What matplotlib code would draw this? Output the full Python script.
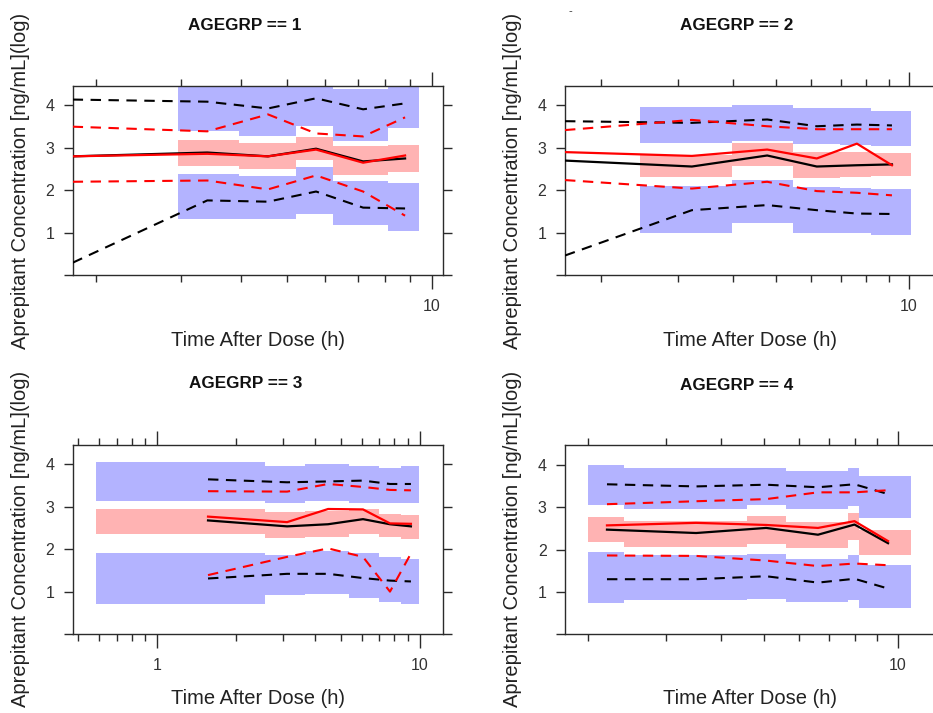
import matplotlib
matplotlib.use("Agg")
import matplotlib.pyplot as plt
import numpy as np

plt.rcParams['font.family'] = ['Liberation Sans', 'DejaVu Sans']

W, H = 933, 713

# ---------------- data ----------------
titles = ["AGEGRP == 1", "AGEGRP == 2", "AGEGRP == 3", "AGEGRP == 4"]
xlabel = "Time After Dose (h)"
ylabel = "Aprepitant Concentration [ng/mL](log)"
ytick_vals = [0, 1, 2, 3, 4]
ytick_labels = ["", "1", "2", "3", "4"]

# panel 1
edges1 = [2.97, 3.97, 5.22, 6.23, 8.11, 9.41]
ub_lo1 = [3.39, 3.27, 3.51, 3.17, 3.47]
ub_hi1 = [4.55, 4.55, 4.55, 4.38, 4.55]
md_lo1 = [2.58, 2.50, 2.71, 2.37, 2.43]
md_hi1 = [3.18, 3.11, 3.26, 3.04, 3.06]
lb_lo1 = [1.31, 1.31, 1.45, 1.17, 1.03]
lb_hi1 = [2.39, 2.33, 2.55, 2.21, 2.16]
t1 = [1.79, 3.41, 4.56, 5.74, 7.19, 8.79]
obs_med1 = [2.80, 2.89, 2.80, 2.98, 2.68, 2.75]
sim_med1 = [2.80, 2.86, 2.80, 2.96, 2.65, 2.82]
obs_hi1 = [4.14, 4.09, 3.93, 4.17, 3.91, 4.05]
obs_lo1 = [0.29, 1.76, 1.73, 1.97, 1.59, 1.57]
sim_hi1 = [3.50, 3.39, 3.79, 3.34, 3.27, 3.72]
sim_lo1 = [2.20, 2.23, 2.02, 2.35, 1.97, 1.40]

# panel 2
edges2 = [2.455, 3.98, 5.46, 6.97, 8.22, 10.1]
ub_lo2 = [3.11, 3.17, 3.08, 3.06, 3.04]
ub_hi2 = [3.97, 4.00, 3.93, 3.95, 3.87]
md_lo2 = [2.31, 2.57, 2.30, 2.31, 2.34]
md_hi2 = [2.84, 3.11, 2.90, 2.90, 2.87]
lb_lo2 = [1.00, 1.23, 1.00, 0.98, 0.94]
lb_hi2 = [2.10, 2.24, 2.08, 2.06, 2.04]
t2 = [1.66, 3.22, 4.77, 6.18, 7.62, 9.15]
obs_med2 = [2.70, 2.56, 2.82, 2.56, 2.59, 2.61]
sim_med2 = [2.90, 2.81, 2.96, 2.75, 3.10, 2.59]
obs_hi2 = [3.63, 3.59, 3.67, 3.51, 3.55, 3.53]
obs_lo2 = [0.46, 1.53, 1.65, 1.53, 1.45, 1.44]
sim_hi2 = [3.42, 3.66, 3.51, 3.44, 3.44, 3.44]
sim_lo2 = [2.24, 2.04, 2.20, 1.98, 1.94, 1.88]

# panel 3
edges3 = [0.584, 2.57, 3.65, 5.36, 6.98, 8.47, 9.94]
ub_lo3 = [3.14, 3.08, 3.14, 3.10, 3.10, 3.10]
ub_hi3 = [4.06, 3.96, 4.02, 3.97, 3.92, 3.97]
md_lo3 = [2.35, 2.26, 2.29, 2.35, 2.30, 2.25]
md_hi3 = [2.96, 2.88, 2.90, 2.95, 2.84, 2.80]
lb_lo3 = [0.71, 0.91, 0.95, 0.84, 0.75, 0.71]
lb_hi3 = [1.92, 1.86, 1.96, 1.92, 1.81, 1.78]
t3 = [1.56, 3.12, 4.47, 6.07, 7.69, 9.24]
obs_med3 = [2.68, 2.54, 2.59, 2.71, 2.59, 2.54]
sim_med3 = [2.77, 2.64, 2.95, 2.94, 2.61, 2.60]
obs_hi3 = [3.65, 3.58, 3.60, 3.62, 3.54, 3.54]
obs_lo3 = [1.31, 1.42, 1.42, 1.32, 1.26, 1.24]
sim_hi3 = [3.37, 3.36, 3.54, 3.47, 3.40, 3.39]
sim_lo3 = [1.39, 1.82, 2.02, 1.82, 1.00, 1.90]

# panel 4
edges4 = [2.0, 2.415, 4.57, 5.59, 7.74, 8.18, 10.71]
ub_lo4 = [3.04, 2.96, 3.06, 2.96, 3.02, 2.75]
ub_hi4 = [4.00, 3.92, 3.92, 3.86, 3.92, 3.74]
md_lo4 = [2.18, 2.07, 2.12, 2.04, 2.22, 1.86]
md_hi4 = [2.76, 2.67, 2.80, 2.64, 2.86, 2.45]
lb_lo4 = [0.74, 0.81, 0.84, 0.76, 0.80, 0.63]
lb_hi4 = [1.94, 1.86, 1.90, 1.78, 1.88, 1.63]
t4 = [2.21, 3.51, 5.05, 6.61, 7.99, 9.51]
obs_med4 = [2.47, 2.39, 2.51, 2.35, 2.59, 2.15]
sim_med4 = [2.57, 2.63, 2.58, 2.51, 2.67, 2.20]
obs_hi4 = [3.54, 3.49, 3.53, 3.47, 3.54, 3.31]
obs_lo4 = [1.30, 1.30, 1.37, 1.22, 1.31, 1.08]
sim_hi4 = [3.07, 3.14, 3.19, 3.35, 3.35, 3.40]
sim_lo4 = [1.86, 1.85, 1.74, 1.61, 1.67, 1.63]

# ---------------- layout (pixels) ----------------
panels = [
    dict(box=(73, 86, 443, 275), xlim=(1.793, 10.54), major=[10], minor=[2, 3, 4, 5, 6, 7, 8, 9],
         title_xy=(245, 25), xl_xy=(258, 340), yl_xy=(20.5, 181),
         edges=edges1, ub=(ub_lo1, ub_hi1), md=(md_lo1, md_hi1), lb=(lb_lo1, lb_hi1),
         t=t1, om=obs_med1, sm=sim_med1, oh=obs_hi1, ol=obs_lo1, sh=sim_hi1, sl=sim_lo1),
    dict(box=(565, 86, 951.7, 275), xlim=(1.66, 12.5), major=[10], minor=[2, 3, 4, 5, 6, 7, 8, 9],
         title_xy=(737, 25), xl_xy=(750, 340), yl_xy=(512, 181),
         edges=edges2, ub=(ub_lo2, ub_hi2), md=(md_lo2, md_hi2), lb=(lb_lo2, lb_hi2),
         t=t2, om=obs_med2, sm=sim_med2, oh=obs_hi2, ol=obs_lo2, sh=sim_hi2, sl=sim_lo2),
    dict(box=(73, 445, 443, 634), xlim=(0.4776, 12.24), major=[1, 10],
         minor=[0.5, 0.6, 0.7, 0.8, 0.9, 2, 3, 4, 5, 6, 7, 8, 9],
         title_xy=(246, 384), xl_xy=(258, 698), yl_xy=(20.5, 539),
         edges=edges3, ub=(ub_lo3, ub_hi3), md=(md_lo3, md_hi3), lb=(lb_lo3, lb_hi3),
         t=t3, om=obs_med3, sm=sim_med3, oh=obs_hi3, ol=obs_lo3, sh=sim_hi3, sl=sim_lo3),
    dict(box=(565.3, 445.3, 940.7, 634.3), xlim=(1.78, 12.5), major=[10], minor=[2, 3, 4, 5, 6, 7, 8, 9],
         title_xy=(737, 385), xl_xy=(750, 698), yl_xy=(512, 539),
         edges=edges4, ub=(ub_lo4, ub_hi4), md=(md_lo4, md_hi4), lb=(lb_lo4, lb_hi4),
         t=t4, om=obs_med4, sm=sim_med4, oh=obs_hi4, ol=obs_lo4, sh=sim_hi4, sl=sim_lo4),
]

BLUE = "#b3b3ff"
PINK = "#ffb3b3"
AXC = "#2b2b2b"
TXC = "#222222"
DASH = (0, (5.0, 3.6))

fig = plt.figure(figsize=(W / 100, H / 100), dpi=100)

for i, p in enumerate(panels):
    l, t, r, b = p["box"]
    ax = fig.add_axes([l / W, 1 - b / H, (r - l) / W, (b - t) / H])
    ax.set_xscale("log")
    ax.set_xlim(*p["xlim"])
    ax.set_ylim(0, 4.46)

    e = np.array(p["edges"])
    left, width = e[:-1], np.diff(e)
    for (lo, hi), col in [(p["ub"], BLUE), (p["md"], PINK), (p["lb"], BLUE)]:
        lo = np.array(lo); hi = np.array(hi)
        ax.bar(left, hi - lo, bottom=lo, width=width, align="edge",
               color=col, edgecolor="none", linewidth=0, zorder=1)

    ax.plot(p["t"], p["oh"], color="black", lw=1.5, ls=DASH, zorder=3)
    ax.plot(p["t"], p["ol"], color="black", lw=1.5, ls=DASH, zorder=3)
    ax.plot(p["t"], p["sh"], color="red", lw=1.5, ls=DASH, zorder=3)
    ax.plot(p["t"], p["sl"], color="red", lw=1.5, ls=DASH, zorder=3)
    ax.plot(p["t"], p["om"], color="black", lw=1.6, zorder=4)
    ax.plot(p["t"], p["sm"], color="red", lw=1.6, zorder=4)

    ax.set_xticks(p["major"])
    ax.set_xticklabels([("%g" % v) for v in p["major"]])
    ax.set_xticks(p["minor"], minor=True)
    ax.set_xticklabels([], minor=True)
    ax.set_yticks(ytick_vals)
    ax.set_yticklabels(ytick_labels)
    ax.tick_params(axis="x", which="major", direction="out", length=10, width=1.0,
                   top=True, bottom=True, labeltop=False, pad=7,
                   labelsize=11.5, color=AXC, labelcolor="#333333")
    ax.tick_params(axis="x", which="minor", direction="out", length=5, width=1.0,
                   top=True, bottom=True, color=AXC)
    ax.tick_params(axis="y", which="major", direction="out", length=6.5, width=1.0,
                   left=True, right=True, labelright=False, pad=7,
                   labelsize=11.5, color=AXC, labelcolor="#333333")
    ax.tick_params(axis="y", which="minor", left=False, right=False)
    for sp in ax.spines.values():
        sp.set_color(AXC)
        sp.set_linewidth(1.0)

    tx, ty = p["title_xy"]
    fig.text(tx / W, 1 - ty / H, titles[i], ha="center", va="center",
             fontsize=12.3, fontweight="bold", color="#111111")
    xx, xy = p["xl_xy"]
    fig.text(xx / W, 1 - xy / H, xlabel, ha="center", va="center",
             fontsize=14.5, color=TXC)
    yx, yy = p["yl_xy"]
    fig.text(yx / W, 1 - yy / H, ylabel, ha="center", va="center",
             rotation=90, fontsize=14.5, color=TXC)

fig.text(570 / W, 1 - 11 / H, "-", ha="center", va="center", fontsize=8, color="#333333")

fig.savefig("out.png", dpi=100)
